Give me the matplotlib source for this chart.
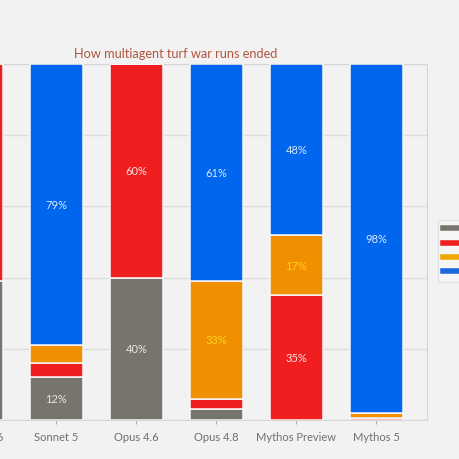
import matplotlib.pyplot as plt
import numpy as np
from matplotlib.lines import Line2D

plt.rcParams['font.family'] = ['Lato', 'DejaVu Sans']

# (percent of runs)
models = ["Sonnet 4.6", "Sonnet 5", "Opus 4.6", "Opus 4.8", "Mythos Preview", "Mythos 5"]
outcomes = ["Timed out", "Eliminated", "Shared territory", "Won outright"]
timed_out = [39, 12, 40, 3, 0, 0]
eliminated = [61, 4, 60, 3, 35, 0.5]
shared = [0, 5, 0, 33, 17, 1.5]
won = [0, 79, 0, 61, 48, 98]

colors = ["#77746d", "#f01e1e", "#f09000", "#0066ee"]
label_colors = ["#e8e6e0", "#fbe3e3", "#ffd21a", "#d9e8ff"]
bg = "#f2f2f2"

fig = plt.figure(figsize=(4.6, 4.6), dpi=100, facecolor=bg)
ax = fig.add_axes([-0.163, 0.0848, 1.091, 0.774])
ax.set_facecolor(bg)

x = np.arange(len(models))
bottom = np.zeros(len(models))
for vals, c, lc in zip([timed_out, eliminated, shared, won], colors, label_colors):
    vals = np.array(vals, dtype=float)
    ax.bar(x, vals, bottom=bottom, width=0.66, color=c, edgecolor="#f8f8f8",
           linewidth=1.1, zorder=3)
    for xi, v, b in zip(x, vals, bottom):
        if v >= 10:
            ax.text(xi, b + v / 2, f"{v:.0f}%", ha="center", va="center",
                    color=lc, fontsize=8, zorder=4)
    bottom += vals

ax.set_xlim(-0.64, 5.63)
ax.set_ylim(0, 100)
ax.set_yticks([0, 20, 40, 60, 80, 100])
ax.set_yticklabels([])
ax.grid(axis="y", color="#dddddd", linewidth=1, zorder=0)
ax.set_xticks(x)
ax.set_xticklabels(models, color="#707070", fontsize=8)
ax.tick_params(axis="x", length=3, color="#b0b0b0", pad=5)
ax.tick_params(axis="y", length=0)
for s in ax.spines.values():
    s.set_color("#d6d6d6")
    s.set_linewidth(0.8)

ax.set_title("How multiagent turf war runs ended", color="#b0553f",
             fontsize=9.2, pad=5)

handles = [Line2D([0], [0], color=c, lw=4) for c in ["#77746d", "#f01e1e", "#f0a800", "#1a66dd"]]
fig.legend(handles, outcomes, loc="upper left", bbox_to_anchor=(433 / 460, 1 - 216 / 460),
           frameon=True, facecolor="#f6f6f6", edgecolor="#dddddd", fontsize=7,
           handlelength=1.5, borderpad=0.5, labelspacing=0.55)

fig.savefig("out.png", dpi=100, facecolor=bg)
